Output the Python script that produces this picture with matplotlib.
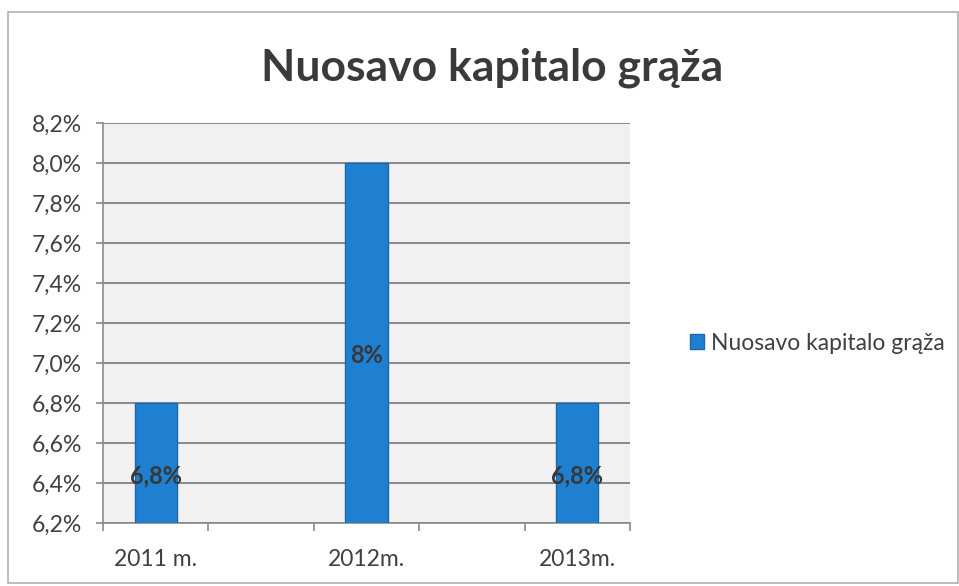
import numpy as np
import matplotlib
matplotlib.use('Agg')
import matplotlib.pyplot as plt
from matplotlib.patches import Rectangle
from matplotlib.ticker import FuncFormatter, FixedLocator

title = 'Nuosavo kapitalo grąža'
series_name = 'Nuosavo kapitalo grąža'
# the source chart has empty categories between the years
categories = ['2011 m.', '', '2012m.', '', '2013m.']
values = [6.8, np.nan, 8.0, np.nan, 6.8]
value_labels = ['6,8%', '', '8%', '', '6,8%']
y_ticks = [6.2, 6.4, 6.6, 6.8, 7.0, 7.2, 7.4, 7.6, 7.8, 8.0, 8.2]

txt = '#404040'
blue = '#1f80d2'

plt.rcParams['font.family'] = ['Lato', 'DejaVu Sans']

fig = plt.figure(figsize=(9.59, 5.86), dpi=100)
fig.patch.set_facecolor('white')
fig.patches.append(Rectangle((8/959, 1-583/586), 950/959, 571/586,
                             transform=fig.transFigure, fill=False,
                             edgecolor='#b0b0b0', lw=1.2))

ax = fig.add_axes([103/959, 1-523/586, 527/959, 400/586])
ax.set_facecolor('#f1f1f1')

x = np.arange(len(categories))
bars = ax.bar(x, np.nan_to_num(values, nan=0) - y_ticks[0], bottom=y_ticks[0],
              width=0.4, color=blue, edgecolor='#1968ad', lw=1, zorder=3)
for i, v in enumerate(values):
    if np.isnan(v):
        bars[i].set_visible(False)
        continue
    ax.annotate(value_labels[i], (x[i], (y_ticks[0] + v) / 2), xytext=(0, -9),
                textcoords='offset points', ha='center', va='center',
                fontsize=17, fontweight='bold', color='#383838', zorder=4)

ax.set_xlim(-0.5, len(categories) - 0.5)
ax.set_ylim(y_ticks[0], y_ticks[-1])
ax.set_yticks(y_ticks)
ax.yaxis.set_major_formatter(FuncFormatter(lambda v, p: ('%.1f%%' % v).replace('.', ',')))
ax.grid(axis='y', color='#8a8a8a', lw=1.4, zorder=1)
ax.set_axisbelow(True)

ax.xaxis.set_major_locator(FixedLocator(x))
ax.set_xticklabels(categories)
ax.xaxis.set_minor_locator(FixedLocator(np.arange(len(categories) + 1) - 0.5))
ax.tick_params(axis='x', which='major', length=0, pad=19, labelsize=16.5, labelcolor=txt)
ax.tick_params(axis='x', which='minor', length=6, color='#8a8a8a', width=1.2)
ax.tick_params(axis='y', length=5, color='#8a8a8a', width=1.2, labelsize=16.5, labelcolor=txt, pad=10)

for s in ['top', 'right']:
    ax.spines[s].set_visible(False)
for s in ['left', 'bottom']:
    ax.spines[s].set_color('#8a8a8a')
    ax.spines[s].set_linewidth(1.2)

fig.text(492/959, 1-68/586, title, ha='center', va='center',
         fontsize=32, fontweight='bold', color='#3a3a3a')

ax.legend([Rectangle((0, 0), 1, 1, facecolor=blue, edgecolor='#1968ad')], [series_name],
          loc='center left', bbox_to_anchor=(690/959, 1-343/586), bbox_transform=fig.transFigure,
          frameon=False, fontsize=16.5, handlelength=0.6, handleheight=0.6, handletextpad=0.3,
          labelcolor=txt, borderpad=0, borderaxespad=0)

fig.savefig('out.png', dpi=100)
